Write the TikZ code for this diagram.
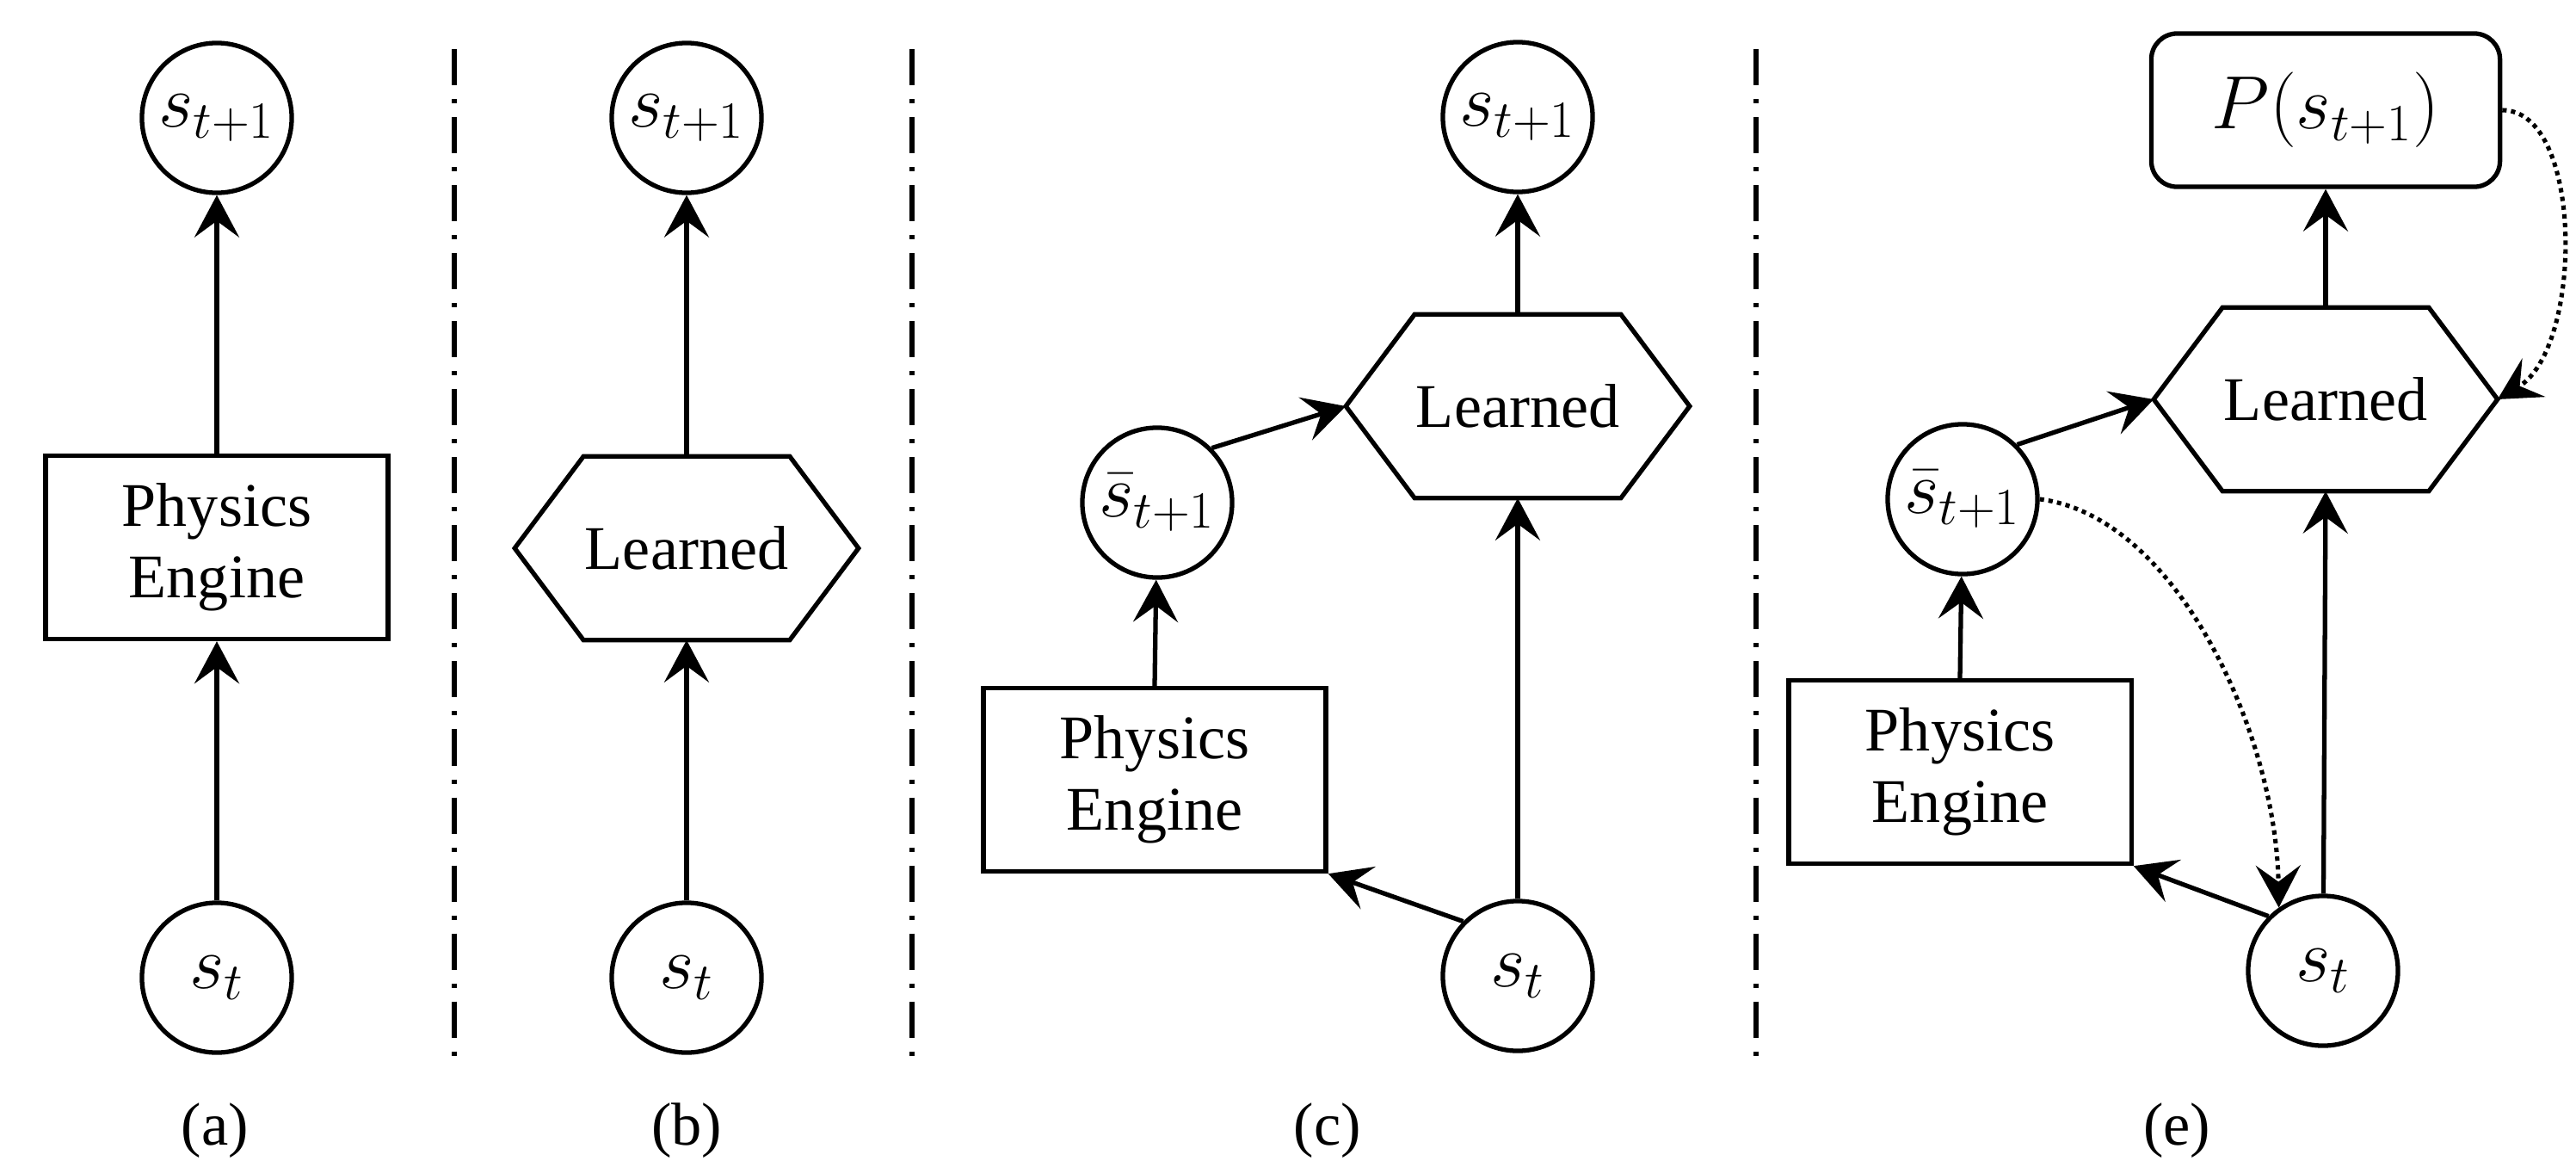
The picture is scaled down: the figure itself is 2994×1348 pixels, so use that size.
\documentclass[tikz,border=0pt]{standalone}
\usepackage{fontspec}
\setmainfont{Liberation Serif}
\usetikzlibrary{arrows.meta,calc}
\newcommand\drawhexagon[1]{\draw[line width=1.5pt] ($(#1.north west)+(80,0)$) -- ($(#1.north east)+(-80,0)$) -- (#1.east) -- ($(#1.south east)+(-80,0)$) -- ($(#1.south west)+(80,0)$) -- (#1.west) -- cycle;}
\begin{document}
\begin{tikzpicture}[x=0.01cm,y=-0.01cm,
  circ/.style={circle,draw,line width=1.5pt,minimum size=1.74cm,inner sep=0pt,font=\fontsize{26}{30}\selectfont},
  pbox/.style={rectangle,draw,line width=1.5pt,minimum width=3.98cm,minimum height=2.13cm,inner sep=0pt,align=center,font=\fontsize{20.5}{23.5}\selectfont},
  hexn/.style={rectangle,minimum width=3.98cm,minimum height=2.12cm,inner sep=0pt,font=\fontsize{20.5}{23.5}\selectfont},
  rbox/.style={rectangle,draw,rounded corners=0.3cm,line width=1.5pt,minimum width=4.05cm,minimum height=1.78cm,inner sep=0pt,font=\fontsize{26}{30}\selectfont},
  arr/.style={line width=1.5pt,-{Stealth[length=4.9mm,width=5.2mm,inset=1.9mm]}},
  dotarr/.style={arr,line width=1.45pt,dash pattern=on 1.45pt off 1.45pt},
  sep/.style={line width=1.6pt,dash pattern=on 0.42cm off 0.16cm on 0.05cm off 0.16cm},
  lab/.style={font=\fontsize{20}{24}\selectfont}
]
\useasboundingbox (0,0) rectangle (2994,1348);

% separators
\coordinate (d1t) at (528,57);  \coordinate (d1b) at (528,1233);
\coordinate (d2t) at (1060,57); \coordinate (d2b) at (1060,1233);
\coordinate (d3t) at (2041,57); \coordinate (d3b) at (2041,1233);
\draw[sep] (d1t) -- (d1b);
\draw[sep] (d2t) -- (d2b);
\draw[sep] (d3t) -- (d3b);

% (a)
\node[circ] (sa1) at (252,137) {$s_{t+1}$};
\node[pbox] (pa) at (252,636) {Physics\\Engine};
\node[circ] (sa0) at (252,1136) {$s_t$};
\node[lab] (la) at (250,1314) {(a)};
\draw[arr] (sa0) -- (pa);
\draw[arr] (pa) -- (sa1);

% (b)
\node[circ] (sb1) at (798,137) {$s_{t+1}$};
\node[hexn] (lb) at (798,637) {Learned};
\drawhexagon{lb}
\node[circ] (sb0) at (798,1136) {$s_t$};
\node[lab] (lbl) at (798,1314) {(b)};
\draw[arr] (sb0) -- (lb.south);
\draw[arr] (lb.north) -- (sb1);

% (c)
\node[circ] (sc1) at (1764,136) {$s_{t+1}$};
\node[hexn] (lc) at (1764,472) {Learned};
\drawhexagon{lc}
\node[circ] (sbc) at (1345,584) {$\bar{s}_{t+1}$};
\node[pbox] (pc) at (1342,906) {Physics\\Engine};
\node[circ] (sc0) at (1764,1134) {$s_t$};
\node[lab] (lcl) at (1543,1314) {(c)};
\draw[arr] (sc0) -- (lc.south);
\draw[arr] (lc.north) -- (sc1);
\draw[arr] (pc.north) -- (sbc);
\draw[arr] (sbc.45) -- (lc.west);
\draw[arr] (sc0.135) -- (pc.south east);

% (e)
\node[rbox] (pe1) at (2703,128) {$P(s_{t+1})$};
\node[hexn] (le) at (2703,464) {Learned};
\drawhexagon{le}
\node[circ] (sbe) at (2281,580) {$\bar{s}_{t+1}$};
\node[pbox] (pe) at (2278,897) {Physics\\Engine};
\node[circ] (se0) at (2700,1128) {$s_t$};
\node[lab] (lel) at (2530,1314) {(e)};
\draw[arr] (le.north) -- (pe1.south);
\draw[arr] (se0) -- (le.south);
\draw[arr] (pe.north) -- (sbe);
\draw[arr] (sbe.45) -- (le.west);
\draw[arr] (se0.135) -- (pe.south east);
\draw[dotarr] (sbe.east) .. controls +(160,20) and +(-3,-200) .. (se0.125);
\draw[dotarr] (pe1.east) .. controls +(95,0) and +(100,-60) .. (le.east);
\end{tikzpicture}
\end{document}
